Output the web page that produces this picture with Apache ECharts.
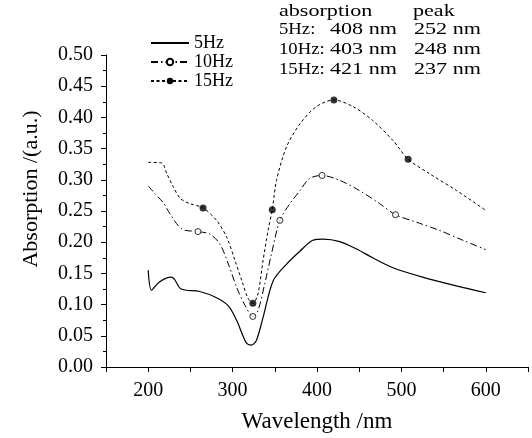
<!DOCTYPE html>
<html>
<head>
<meta charset="utf-8">
<script src="https://cdn.jsdelivr.net/npm/echarts@6/dist/echarts.min.js"></script>
<style>html,body{margin:0;padding:0;background:#fff;}#c{width:532px;height:438px;}</style>
</head>
<body>
<div id="c"></div>
<script>
// ---- data ----
const seriesNames = ['5Hz', '10Hz', '15Hz'];

const wl5  = [200, 204, 213, 227, 231, 239, 261, 281, 295, 305, 316, 322, 328, 336, 348, 364, 380, 395, 407, 427, 447, 466, 490, 525, 565, 600];
const abs5 = [0.155, 0.123, 0.136, 0.144, 0.141, 0.125, 0.121, 0.111, 0.098, 0.074, 0.039, 0.035, 0.042, 0.079, 0.138, 0.165, 0.186, 0.203, 0.205, 0.201, 0.189, 0.175, 0.159, 0.144, 0.130, 0.119];

const wl10  = [200, 208, 218, 226, 240, 259, 273, 285, 295, 305, 315, 324, 330, 338, 346, 356, 368, 380, 391, 406, 427, 450, 474, 493, 518, 545, 573, 600];
const abs10 = [0.290, 0.278, 0.263, 0.245, 0.221, 0.217, 0.213, 0.197, 0.165, 0.127, 0.098, 0.081, 0.090, 0.133, 0.181, 0.235, 0.262, 0.283, 0.302, 0.307, 0.299, 0.283, 0.262, 0.244, 0.232, 0.219, 0.203, 0.188];
const mk10x = [259, 324, 356, 406, 493];
const mk10y = [0.217, 0.081, 0.235, 0.307, 0.244];

const wl15  = [200, 216, 222, 230, 238, 249, 265, 281, 293, 303, 311, 318, 324, 330, 336, 342, 347, 352, 364, 380, 399, 420, 443, 466, 490, 508, 533, 565, 600];
const abs15 = [0.328, 0.327, 0.310, 0.288, 0.270, 0.262, 0.255, 0.235, 0.208, 0.170, 0.138, 0.111, 0.102, 0.117, 0.170, 0.219, 0.252, 0.299, 0.353, 0.390, 0.417, 0.428, 0.417, 0.395, 0.363, 0.333, 0.310, 0.283, 0.251];
const mk15x = [265, 324, 347, 420, 508];
const mk15y = [0.255, 0.102, 0.252, 0.428, 0.333];

const yTicks = [0, 0.05, 0.10, 0.15, 0.20, 0.25, 0.30, 0.35, 0.40, 0.45, 0.50];
const xLabels = [200, 300, 400, 500, 600];

const noteHeader = ['absorption', 'peak'];
const noteRows = [
  ['5Hz:', '408 nm', '252 nm'],
  ['10Hz:', '403 nm', '248 nm'],
  ['15Hz:', '421 nm', '237 nm']
];

// ---- build ----
const zip = (xs, ys) => xs.map((x, i) => [x, ys[i]]);
const FONT = '"Liberation Serif", "Times New Roman", serif';

const chart = echarts.init(document.getElementById('c'), null, {renderer: 'canvas'});

const noteFont = '17px ' + FONT;
const txt = (t, x, y, sx) => ({type: 'text', x: x, y: y, scaleX: sx, style: {text: t, font: noteFont, fill: '#000', verticalAlign: 'middle'}});
const graphics = [];
graphics.push(txt(noteHeader[0], 279, 12, 1.3));
graphics.push(txt(noteHeader[1], 413, 12, 1.3));
const rowY = [30, 50, 70];
const colX = [279, 330, 414];
const colS = [1.1, 1.3, 1.3];
noteRows.forEach((row, r) => {
  row.forEach((t, c) => graphics.push(txt(t, colX[c], rowY[r], colS[c])));
});

const option = {
  backgroundColor: '#fff',
  animation: false,
  grid: {left: 106, right: 4, top: 55, bottom: 71, containLabel: false},
  legend: {
    orient: 'vertical',
    left: 150,
    top: 34,
    padding: 0,
    itemWidth: 38,
    itemHeight: 8,
    itemGap: 1,
    textStyle: {fontFamily: FONT, fontSize: 18, color: '#000'},
    data: [
      {name: seriesNames[0], itemStyle: {opacity: 0}},
      {name: seriesNames[1]},
      {name: seriesNames[2]}
    ]
  },
  xAxis: {
    type: 'value',
    min: 150,
    max: 650,
    interval: 50,
    name: 'Wavelength /nm',
    nameLocation: 'middle',
    nameGap: 43,
    nameTextStyle: {fontFamily: FONT, fontSize: 23, color: '#000'},
    axisLine: {show: true, lineStyle: {color: '#000', width: 1}},
    axisTick: {show: true, length: 5, lineStyle: {color: '#000'}},
    axisLabel: {
      margin: 14,
      fontFamily: FONT, fontSize: 20, color: '#000',
      interval: 0,
      formatter: v => xLabels.indexOf(v) >= 0 ? String(v) : ''
    },
    splitLine: {show: false}
  },
  yAxis: {
    type: 'value',
    min: yTicks[0],
    max: yTicks[yTicks.length - 1],
    interval: 0.05,
    name: 'Absorption /(a.u.)',
    nameLocation: 'middle',
    nameGap: 64,
    nameTextStyle: {fontFamily: FONT, fontSize: 22, color: '#000', padding: [0, 0, 0, 44]},
    axisLine: {show: true, lineStyle: {color: '#000', width: 1}},
    axisTick: {show: true, length: 5, lineStyle: {color: '#000'}},
    minorTick: {show: true, splitNumber: 2, length: 3, lineStyle: {color: '#000'}},
    axisLabel: {margin: 13, fontFamily: FONT, fontSize: 20, color: '#000', formatter: v => v.toFixed(2)},
    splitLine: {show: false}
  },
  graphic: graphics,
  series: [
    {
      name: seriesNames[0], type: 'line', data: zip(wl5, abs5), smooth: 0.3,
      symbol: 'circle', showSymbol: false,
      itemStyle: {color: '#000'},
      lineStyle: {color: '#000', width: 1.2, type: 'solid'},
      z: 3
    },
    {
      name: seriesNames[1], type: 'line', data: zip(wl10, abs10), smooth: 0.3,
      symbol: 'circle', showSymbol: false,
      itemStyle: {color: '#fff', borderColor: '#000', borderWidth: 1},
      lineStyle: {color: '#000', width: 1, type: [7, 3, 1.5, 3]},
      z: 3
    },
    {
      name: seriesNames[2], type: 'line', data: zip(wl15, abs15), smooth: 0.3,
      symbol: 'circle', showSymbol: false,
      itemStyle: {color: '#000'},
      lineStyle: {color: '#000', width: 1, type: [3, 2.5]},
      z: 3
    },
    {
      name: '10Hz markers', type: 'scatter', data: zip(mk10x, mk10y),
      symbol: 'circle', symbolSize: 6,
      itemStyle: {color: '#fff', borderColor: '#000', borderWidth: 1},
      z: 4
    },
    {
      name: '15Hz markers', type: 'scatter', data: zip(mk15x, mk15y),
      symbol: 'circle', symbolSize: 7,
      itemStyle: {color: '#000'},
      z: 4
    }
  ]
};
chart.setOption(option);
</script>
</body>
</html>
